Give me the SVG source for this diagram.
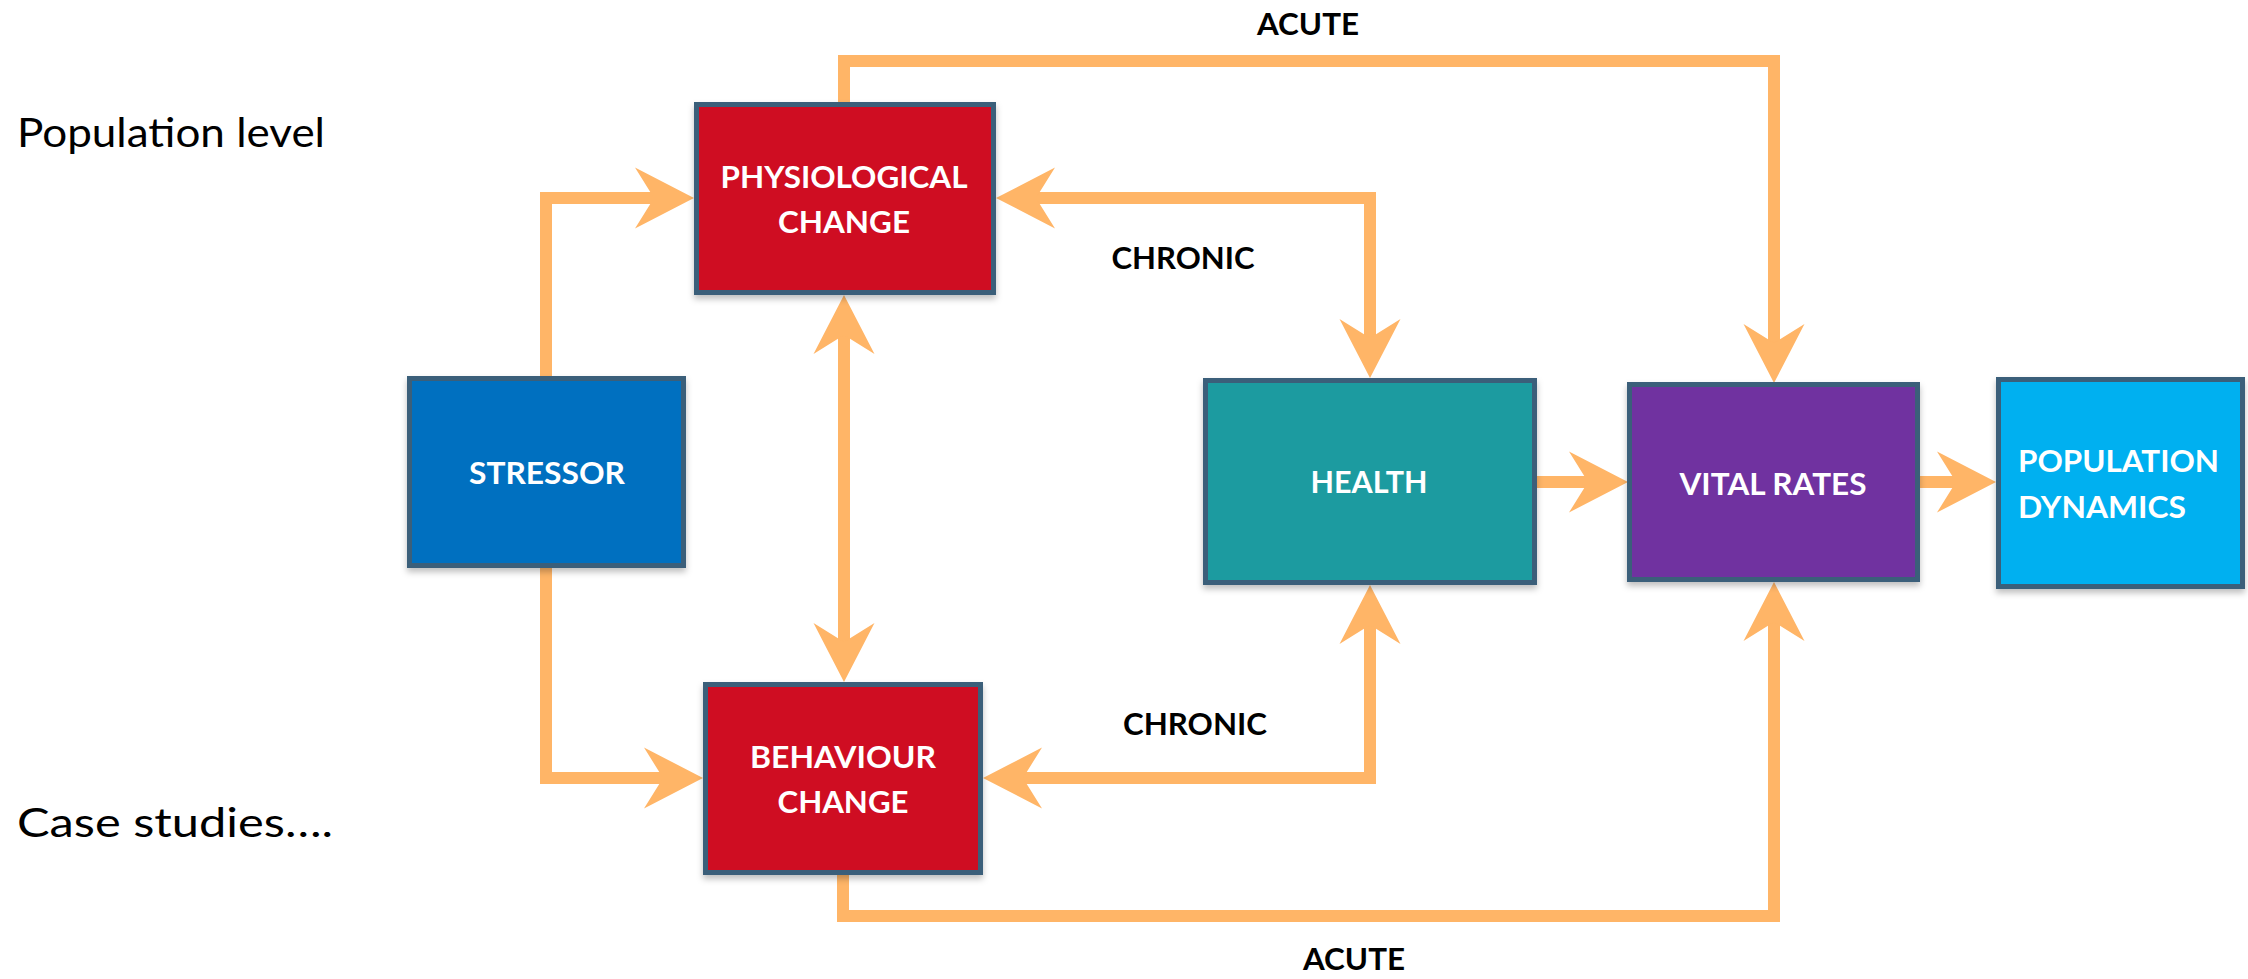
<svg xmlns="http://www.w3.org/2000/svg" width="2248" height="979" viewBox="0 0 2248 979">
<style>
.box{stroke:#3B5E7A;stroke-width:5;filter:url(#sh)}
.bt{font-family:Lato,"Liberation Sans",sans-serif;font-weight:bold;font-size:30px;fill:#ffffff}
.lbl{font-family:Lato,"Liberation Sans",sans-serif;font-weight:bold;font-size:30px;fill:#000000}
.side{font-family:Lato,"Liberation Sans",sans-serif;font-size:41px;fill:#000000}
.con{fill:none;stroke:#FFB567;stroke-width:12;stroke-linejoin:miter}
</style>
<defs>
<filter id="sh" x="-10%" y="-10%" width="120%" height="125%">
<feDropShadow dx="0" dy="4" stdDeviation="3" flood-color="#000" flood-opacity="0.25"/>
</filter>
<marker id="ah" markerUnits="userSpaceOnUse" orient="auto-start-reverse" overflow="visible" markerWidth="60" markerHeight="62" refX="0" refY="0">
<path d="M40,0 L-19,-30.5 L0,0 L-19,30.5 Z" fill="#FFB567"/>
</marker>
</defs>
<g id="connectors">
<path class="con" d="M546,376 V198 H654" marker-end="url(#ah)"/>
<path class="con" d="M546,568 V778 H663" marker-end="url(#ah)"/>
<path class="con" d="M844,335 V642" marker-start="url(#ah)" marker-end="url(#ah)"/>
<path class="con" d="M844,104 V61 H1774 V343" marker-end="url(#ah)"/>
<path class="con" d="M1036,198 H1370 V338" marker-start="url(#ah)" marker-end="url(#ah)"/>
<path class="con" d="M1537,482 H1588" marker-end="url(#ah)"/>
<path class="con" d="M1920,482 H1956" marker-end="url(#ah)"/>
<path class="con" d="M1023,778 H1370 V625" marker-start="url(#ah)" marker-end="url(#ah)"/>
<path class="con" d="M843,873 V916 H1774 V622" marker-end="url(#ah)"/>
</g>
<g id="physiological">
<rect class="box" x="696.5" y="104.5" width="297" height="188" fill="#CF0F20"/>
<text class="bt" x="844" y="188" text-anchor="middle" textLength="247" lengthAdjust="spacingAndGlyphs">PHYSIOLOGICAL</text>
<text class="bt" x="844" y="233" text-anchor="middle" textLength="132" lengthAdjust="spacingAndGlyphs">CHANGE</text>
</g>
<g id="stressor">
<rect class="box" x="409.5" y="378.5" width="274" height="187" fill="#0070C0"/>
<text class="bt" x="547" y="484" text-anchor="middle" textLength="156" lengthAdjust="spacingAndGlyphs">STRESSOR</text>
</g>
<g id="behaviour">
<rect class="box" x="705.5" y="684.5" width="275" height="188" fill="#CF0F20"/>
<text class="bt" x="843" y="768" text-anchor="middle" textLength="186" lengthAdjust="spacingAndGlyphs">BEHAVIOUR</text>
<text class="bt" x="843" y="813" text-anchor="middle" textLength="131" lengthAdjust="spacingAndGlyphs">CHANGE</text>
</g>
<g id="health">
<rect class="box" x="1205.5" y="380.5" width="329" height="202" fill="#1F9BA0"/>
<text class="bt" x="1369" y="493" text-anchor="middle" textLength="117" lengthAdjust="spacingAndGlyphs">HEALTH</text>
</g>
<g id="vital-rates">
<rect class="box" x="1629.5" y="384.5" width="288" height="195" fill="#7030A0"/>
<text class="bt" x="1773" y="495" text-anchor="middle" textLength="187" lengthAdjust="spacingAndGlyphs">VITAL RATES</text>
</g>
<g id="population-dynamics">
<rect class="box" x="1998.5" y="379.5" width="244" height="207" fill="#00B0F0"/>
<text class="bt" x="2018" y="472" textLength="201" lengthAdjust="spacingAndGlyphs">POPULATION</text>
<text class="bt" x="2018" y="518" textLength="168" lengthAdjust="spacingAndGlyphs">DYNAMICS</text>
</g>
<g id="labels">
<text class="lbl" x="1308" y="35" text-anchor="middle" textLength="102" lengthAdjust="spacingAndGlyphs">ACUTE</text>
<text class="lbl" x="1183" y="269" text-anchor="middle" textLength="143" lengthAdjust="spacingAndGlyphs">CHRONIC</text>
<text class="lbl" x="1195" y="735" text-anchor="middle" textLength="144" lengthAdjust="spacingAndGlyphs">CHRONIC</text>
<text class="lbl" x="1354" y="970" text-anchor="middle" textLength="102" lengthAdjust="spacingAndGlyphs">ACUTE</text>
<text class="side" x="17" y="147" textLength="308" lengthAdjust="spacingAndGlyphs">Population level</text>
<text class="side" x="17" y="837" textLength="316" lengthAdjust="spacingAndGlyphs">Case studies….</text>
</g>
</svg>
